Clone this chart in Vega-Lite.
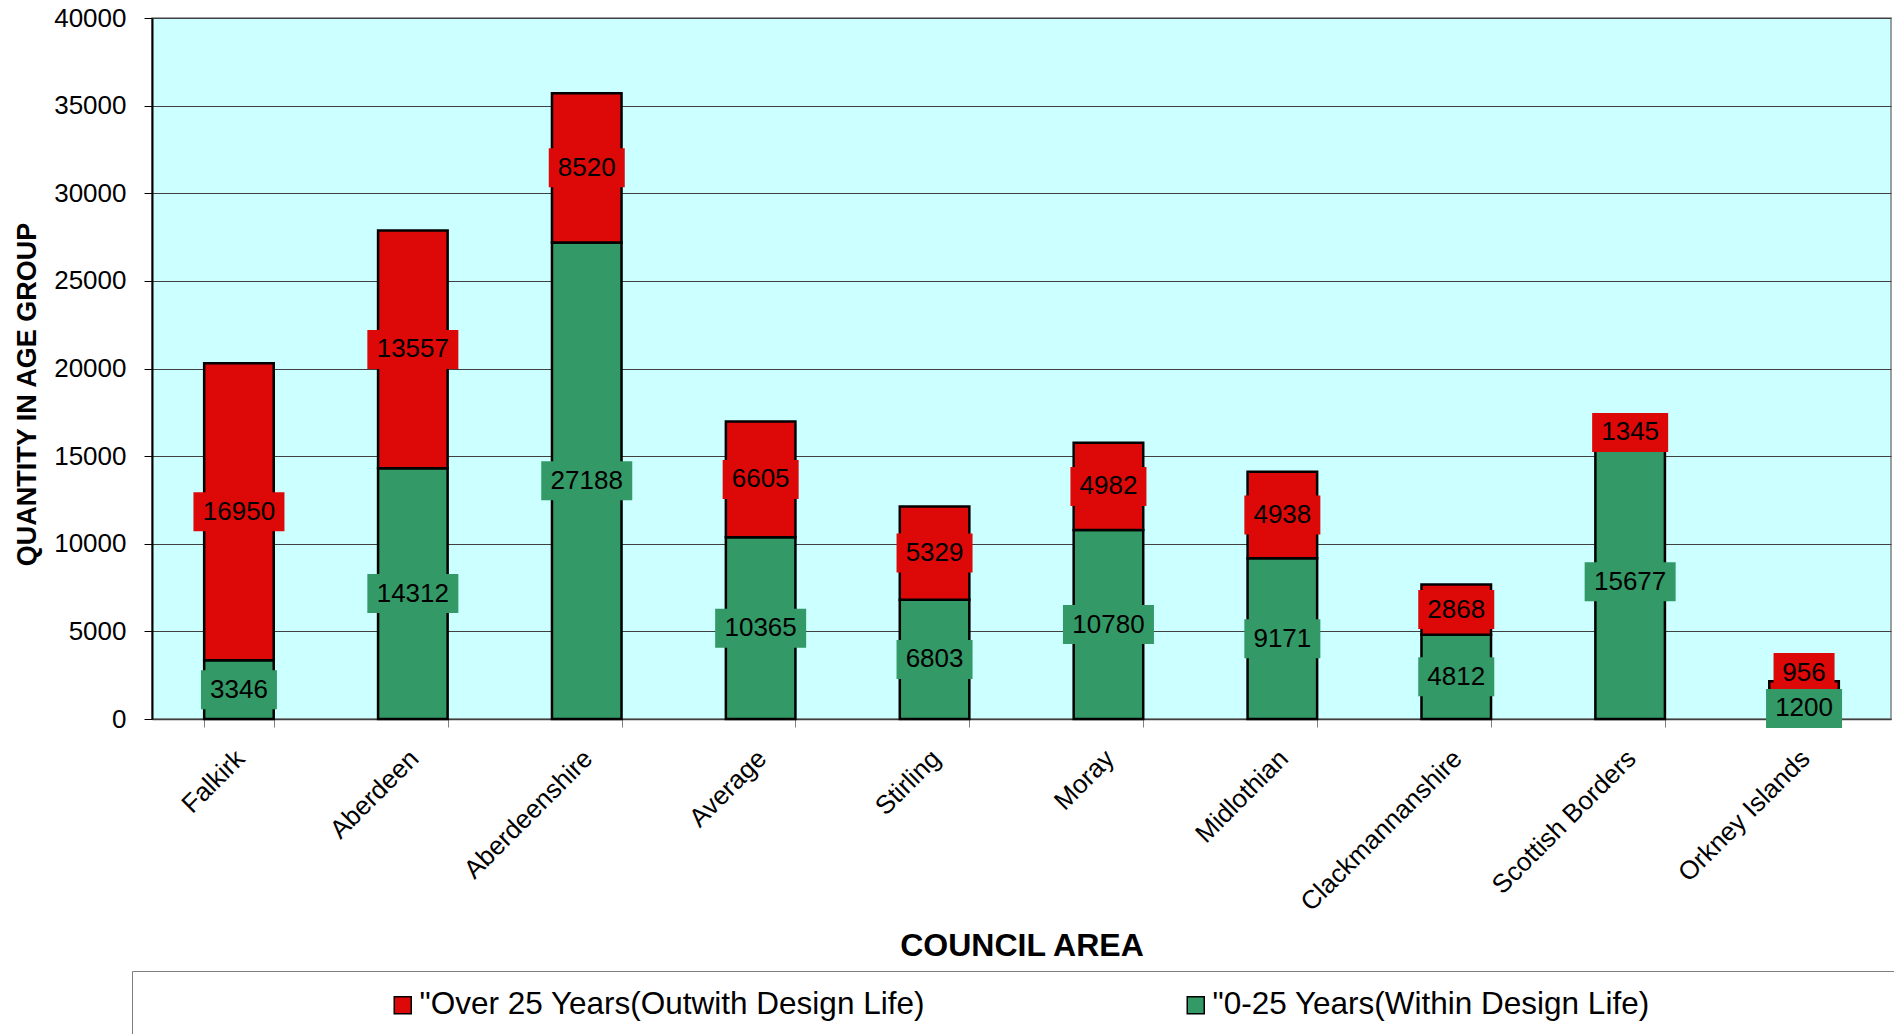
{
  "$schema": "https://vega.github.io/schema/vega-lite/v6.json",
  "width": 1739,
  "height": 701,
  "autosize": {"type": "none"},
  "padding": {"left": 152, "top": 18, "right": 3, "bottom": 315},
  "background": "white",
  "config": {
    "font": "Liberation Sans",
    "view": {"fill": "#CCFFFF", "stroke": "#808080", "strokeWidth": 1.5}
  },
  "data": {
    "values": [
      {"area": "Falkirk", "series": "\"0-25 Years(Within Design Life)", "value": 3346},
      {"area": "Falkirk", "series": "\"Over 25 Years(Outwith Design Life)", "value": 16950},
      {"area": "Aberdeen", "series": "\"0-25 Years(Within Design Life)", "value": 14312},
      {"area": "Aberdeen", "series": "\"Over 25 Years(Outwith Design Life)", "value": 13557},
      {"area": "Aberdeenshire", "series": "\"0-25 Years(Within Design Life)", "value": 27188},
      {"area": "Aberdeenshire", "series": "\"Over 25 Years(Outwith Design Life)", "value": 8520},
      {"area": "Average", "series": "\"0-25 Years(Within Design Life)", "value": 10365},
      {"area": "Average", "series": "\"Over 25 Years(Outwith Design Life)", "value": 6605},
      {"area": "Stirling", "series": "\"0-25 Years(Within Design Life)", "value": 6803},
      {"area": "Stirling", "series": "\"Over 25 Years(Outwith Design Life)", "value": 5329},
      {"area": "Moray", "series": "\"0-25 Years(Within Design Life)", "value": 10780},
      {"area": "Moray", "series": "\"Over 25 Years(Outwith Design Life)", "value": 4982},
      {"area": "Midlothian", "series": "\"0-25 Years(Within Design Life)", "value": 9171},
      {"area": "Midlothian", "series": "\"Over 25 Years(Outwith Design Life)", "value": 4938},
      {"area": "Clackmannanshire", "series": "\"0-25 Years(Within Design Life)", "value": 4812},
      {"area": "Clackmannanshire", "series": "\"Over 25 Years(Outwith Design Life)", "value": 2868},
      {"area": "Scottish Borders", "series": "\"0-25 Years(Within Design Life)", "value": 15677},
      {"area": "Scottish Borders", "series": "\"Over 25 Years(Outwith Design Life)", "value": 1345},
      {"area": "Orkney Islands", "series": "\"0-25 Years(Within Design Life)", "value": 1200},
      {"area": "Orkney Islands", "series": "\"Over 25 Years(Outwith Design Life)", "value": 956}
    ]
  },
  "transform": [
    {"stack": "value", "groupby": ["area"], "sort": [{"field": "series", "order": "ascending"}], "as": ["v0", "v1"]},
    {"calculate": "(datum.v0 + datum.v1) / 2", "as": "mid"}
  ],
  "encoding": {
    "x": {
      "field": "area",
      "type": "nominal",
      "sort": null,
      "scale": {"paddingInner": 0.6, "paddingOuter": 0.3},
      "axis": {
        "title": "COUNCIL AREA",
        "titleFontSize": 32,
        "titleFontWeight": "bold",
        "titleColor": "black",
        "titleY": 226,
        "titleBaseline": "middle",
        "labelAngle": -45,
        "labelAlign": "right",
        "labelBaseline": "top",
        "labelFontSize": 26,
        "labelColor": "black",
        "labelPadding": 18,
        "labelOffset": -8,
        "labelLimit": 600,
        "tickBand": "extent",
        "tickSize": 8,
        "tickColor": "#808080",
        "domainColor": "#404040",
        "domainWidth": 1.5,
        "grid": false
      }
    }
  },
  "layer": [
    {
      "mark": {"type": "bar", "stroke": "black", "strokeWidth": 2.5},
      "encoding": {
        "y": {
          "field": "v0",
          "type": "quantitative",
          "scale": {"domain": [0, 40000], "nice": false},
          "axis": {
            "title": "QUANTITY IN AGE GROUP",
            "titleFontSize": 27,
            "titleFontWeight": "bold",
            "titleColor": "black",
            "titleX": -125,
            "titleY": 376,
            "titleAlign": "center",
            "titleBaseline": "middle",
            "values": [0, 5000, 10000, 15000, 20000, 25000, 30000, 35000, 40000],
            "format": "d",
            "labelFontSize": 26,
            "labelColor": "black",
            "labelPadding": 18,
            "tickSize": 8,
            "tickColor": "black",
            "domainColor": "black",
            "domainWidth": 2,
            "gridColor": "#404040",
            "gridWidth": 1
          }
        },
        "y2": {"field": "v1"},
        "color": {
          "field": "series",
          "type": "nominal",
          "scale": {
            "domain": ["\"Over 25 Years(Outwith Design Life)", "\"0-25 Years(Within Design Life)"],
            "range": ["#DD0808", "#339966"]
          },
          "legend": {
            "orient": "none",
            "legendX": -20,
            "legendY": 953,
            "direction": "horizontal",
            "title": " ",
            "titleOrient": "right",
            "titleFontSize": 2,
            "titlePadding": 280,
            "symbolOffset": 237,
            "labelFontSize": 31.5,
            "labelColor": "black",
            "labelLimit": 3000,
            "labelOffset": 1,
            "symbolType": "square",
            "symbolSize": 289,
            "symbolStrokeColor": "black",
            "symbolStrokeWidth": 1.5,
            "symbolOpacity": 1,
            "columnPadding": 18,
            "strokeColor": "#808080",
            "fillColor": "white",
            "padding": 18
          }
        }
      }
    },
    {
      "transform": [{"filter": "datum.value < 1000"}],
      "mark": {"type": "point", "filled": true, "opacity": 1, "size": 4, "strokeWidth": 0, "yOffset": -17},
      "encoding": {
        "y": {"field": "mid", "type": "quantitative"},
        "shape": {"value": "M-30.5,-19.5H30.5V19.5H-30.5Z"},
        "color": {"field": "series", "type": "nominal", "legend": null}
      }
    },
    {
      "transform": [{"filter": "datum.value >= 1000"}],
      "mark": {"type": "point", "filled": true, "opacity": 1, "size": 4, "strokeWidth": 0},
      "encoding": {
        "y": {"field": "mid", "type": "quantitative"},
        "shape": {
          "condition": {"test": "datum.value >= 10000", "value": "M-45.5,-19.5H45.5V19.5H-45.5Z"},
          "value": "M-38,-19.5H38V19.5H-38Z"
        },
        "color": {"field": "series", "type": "nominal", "legend": null}
      }
    },
    {
      "transform": [{"filter": "datum.value < 1000"}],
      "mark": {"type": "text", "fontSize": 26, "color": "black", "yOffset": -17},
      "encoding": {
        "y": {"field": "mid", "type": "quantitative"},
        "text": {"field": "value", "type": "quantitative", "format": "d"}
      }
    },
    {
      "transform": [{"filter": "datum.value >= 1000"}],
      "mark": {"type": "text", "fontSize": 26, "color": "black"},
      "encoding": {
        "y": {"field": "mid", "type": "quantitative"},
        "text": {"field": "value", "type": "quantitative", "format": "d"}
      }
    }
  ]
}
